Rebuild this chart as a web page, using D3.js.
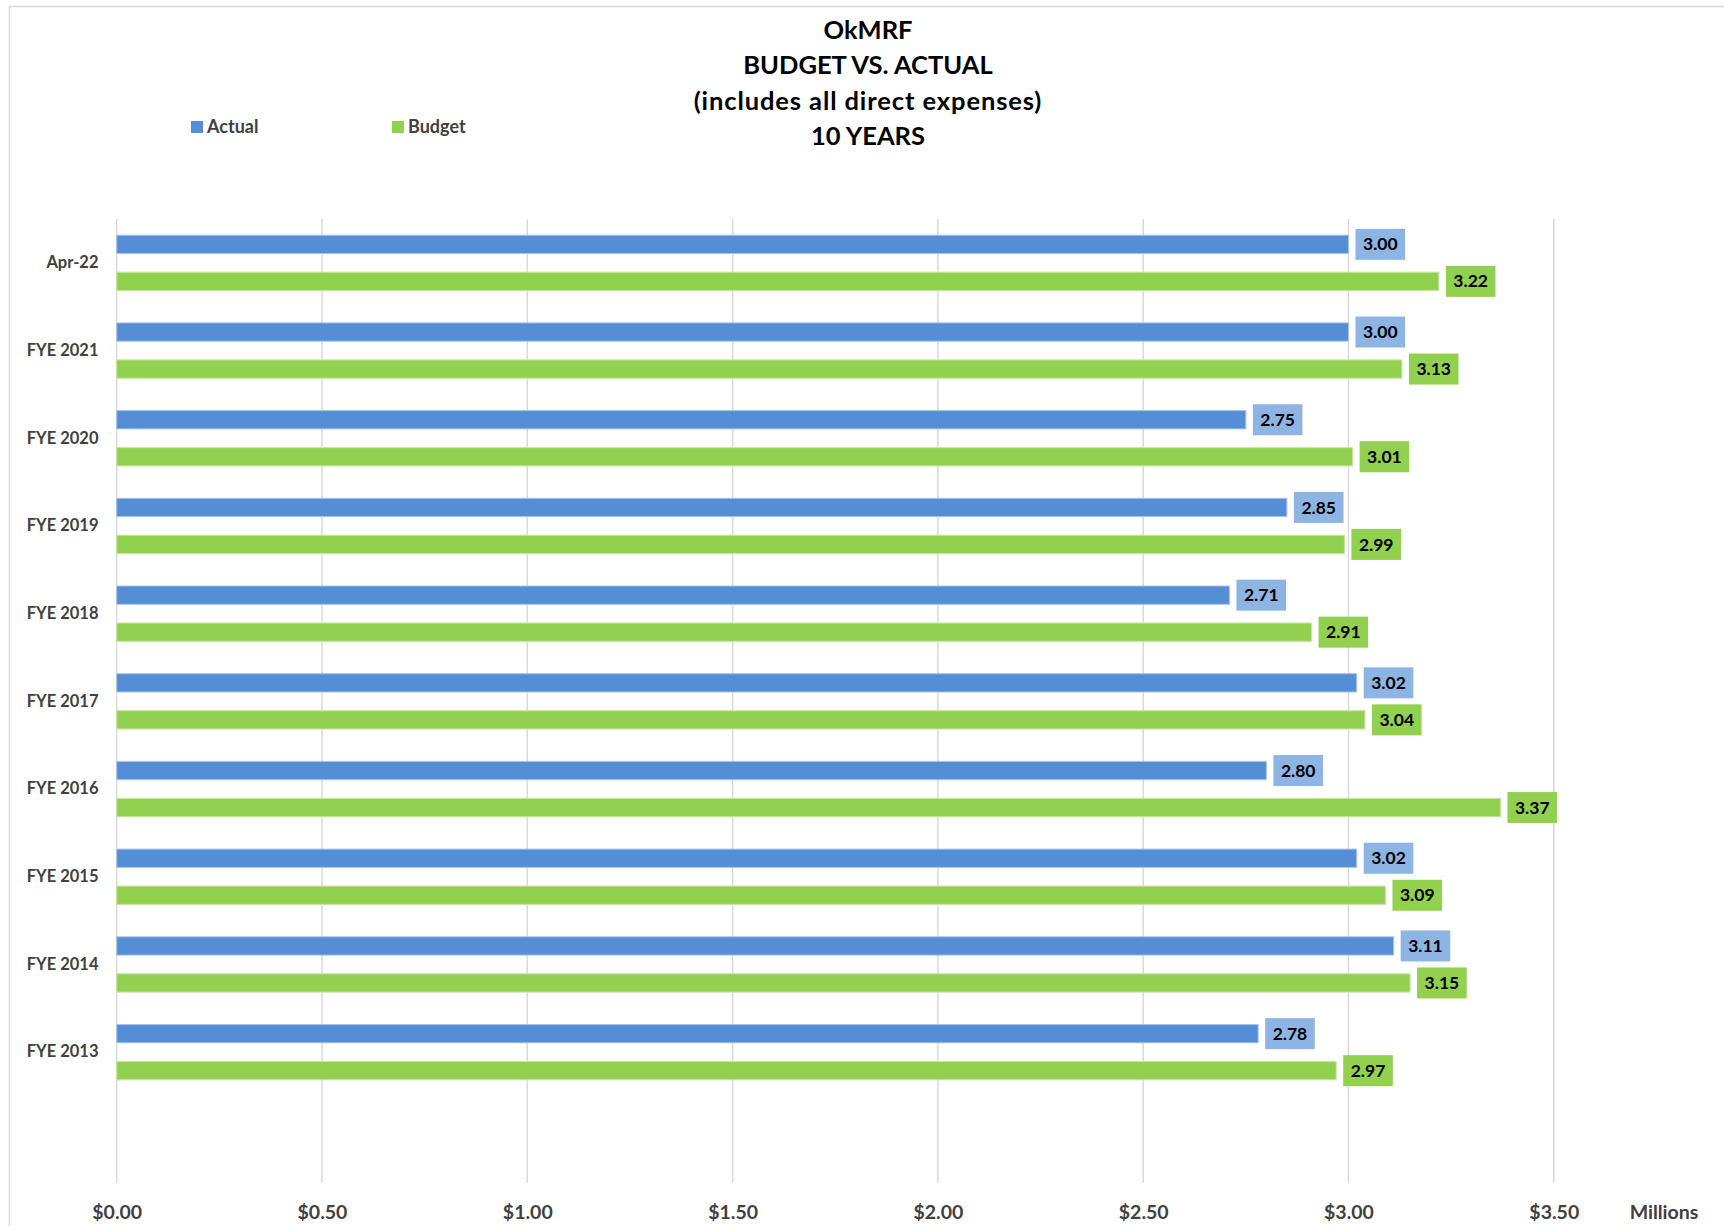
<!DOCTYPE html>
<html>
<head>
<meta charset="utf-8">
<script src="https://cdn.jsdelivr.net/npm/d3@7"></script>
<style>
  html, body { margin: 0; padding: 0; background: #fff; }
  svg { display: block; font-family: Lato, "Open Sans", sans-serif; }
</style>
</head>
<body>
<svg id="chart" width="1724" height="1226"></svg>
<script>
const categories = ["Apr-22", "FYE 2021", "FYE 2020", "FYE 2019", "FYE 2018", "FYE 2017", "FYE 2016", "FYE 2015", "FYE 2014", "FYE 2013"];
const actual = [3.00, 3.00, 2.75, 2.85, 2.71, 3.02, 2.80, 3.02, 3.11, 2.78];
const budget = [3.22, 3.13, 3.01, 2.99, 2.91, 3.04, 3.37, 3.09, 3.15, 2.97];
const seriesNames = ["Actual", "Budget"];
const xTicks = [0, 0.5, 1, 1.5, 2, 2.5, 3, 3.5];
const titleLines = ["OkMRF", "BUDGET VS. ACTUAL", "(includes all direct expenses)", "10 YEARS"];

const barColors = { Actual: "#558ED5", Budget: "#92D050" };
const barStroke = { Actual: "#A9C4EB", Budget: "#C6E6A0" };
const boxColors = { Actual: "#8EB4E3", Budget: "#92D050" };

const svg = d3.select("#chart");

// outer chart border
svg.append("rect").attr("x", 9.5).attr("y", 6.5).attr("width", 1730).attr("height", 1240)
  .attr("fill", "none").attr("stroke", "#D9D9D9").attr("stroke-width", 1.5);

const plot = { left: 116.7, right: 1553.8, top: 219, bottom: 1183 };
const bandStep = 87.7;

const x = d3.scaleLinear().domain([0, 3.5]).range([plot.left, plot.right]);
const y = d3.scaleBand().domain(categories).range([plot.top, plot.top + bandStep * categories.length]).padding(0);
const ySub = d3.scaleBand().domain(seriesNames).range([0, y.bandwidth()]).paddingInner(0.505).paddingOuter(0.4375);

// gridlines
svg.append("g").selectAll("line").data(xTicks).join("line")
  .attr("x1", d => x(d)).attr("x2", d => x(d))
  .attr("y1", plot.top).attr("y2", plot.bottom)
  .attr("stroke", "#D9D9D9").attr("stroke-width", 1.5);

// x axis labels
const xAxis = d3.axisBottom(x).tickValues(xTicks).tickSize(0).tickPadding(0)
  .tickFormat(d => "$" + d3.format(".2f")(d));
const gx = svg.append("g").attr("transform", `translate(0, 1212)`).call(xAxis);
gx.select(".domain").remove();
gx.selectAll("text").attr("dy", "0.35em").attr("y", 0)
  .attr("font-size", 19.5).attr("font-weight", "bold").attr("fill", "#404040")
  .attr("font-family", "Lato, sans-serif");

svg.append("text").attr("x", 1664).attr("y", 1212).attr("dy", "0.35em")
  .attr("text-anchor", "middle").attr("font-size", 19.5).attr("font-weight", "bold")
  .attr("fill", "#404040").text("Millions");

// y axis labels
const yAxis = d3.axisLeft(y).tickSize(0).tickPadding(0);
const gy = svg.append("g").attr("transform", `translate(98.5, 0)`).call(yAxis);
gy.select(".domain").remove();
gy.selectAll("text").attr("font-size", 16.5).attr("font-weight", "bold").attr("fill", "#404040")
  .attr("font-family", "Lato, sans-serif");

// bars
const rows = categories.map((c, i) => ({ cat: c, values: [
  { s: "Actual", v: actual[i] }, { s: "Budget", v: budget[i] } ] }));

const gBars = svg.append("g");
rows.forEach(r => {
  r.values.forEach(d => {
    const by = y(r.cat) + ySub(d.s);
    const bh = ySub.bandwidth();
    gBars.append("rect")
      .attr("x", x(0)).attr("y", by)
      .attr("width", x(d.v) - x(0)).attr("height", bh)
      .attr("fill", barColors[d.s]).attr("stroke", barStroke[d.s]).attr("stroke-width", 1);
    const cy = by + bh / 2;
    const lg = gBars.append("g");
    const t = lg.append("text")
      .attr("y", cy).attr("dy", "0.35em").attr("text-anchor", "middle")
      .attr("font-size", 17.5).attr("font-weight", "bold").attr("fill", "#000")
      .text(d3.format(".2f")(d.v));
    const tw = t.node().getComputedTextLength();
    const boxW = tw + 15, boxH = 31;
    const bx = x(d.v) + 7;
    lg.insert("rect", "text").attr("x", bx).attr("y", cy - boxH / 2)
      .attr("width", boxW).attr("height", boxH).attr("fill", boxColors[d.s]);
    t.attr("x", bx + boxW / 2);
  });
});

// title
svg.append("g").selectAll("text").data(titleLines).join("text")
  .attr("x", 868).attr("y", (d, i) => 30 + i * 35.5).attr("dy", "0.35em")
  .attr("text-anchor", "middle").attr("font-size", 25.5).attr("font-weight", "bold")
  .attr("letter-spacing", (d, i) => i === 2 ? 0.9 : 0)
  .attr("fill", "#000").text(d => d);

// legend
const legendItems = [{ s: "Actual", x: 191 }, { s: "Budget", x: 392 }];
const lgd = svg.append("g");
legendItems.forEach(it => {
  lgd.append("rect").attr("x", it.x).attr("y", 121).attr("width", 12).attr("height", 12)
    .attr("fill", barColors[it.s]);
  lgd.append("text").attr("x", it.x + 16).attr("y", 127).attr("dy", "0.35em")
    .attr("font-size", 18).attr("font-weight", "bold").attr("fill", "#404040").text(it.s);
});
</script>
</body>
</html>
